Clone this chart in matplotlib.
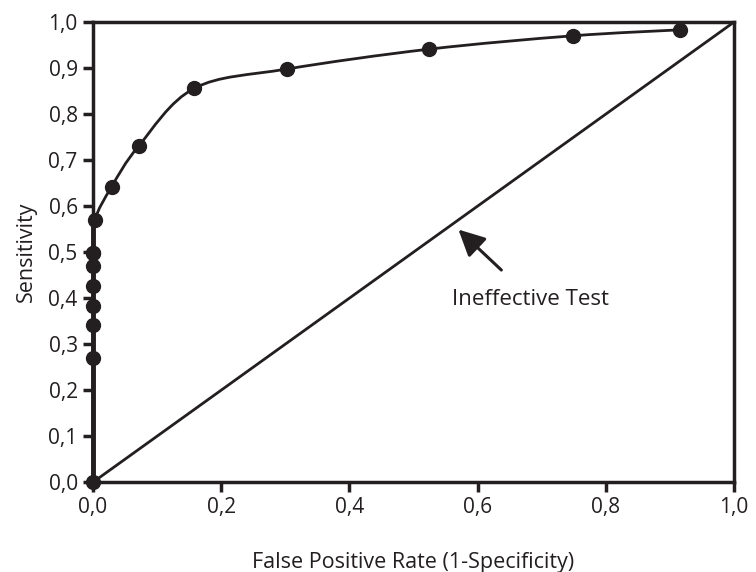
import matplotlib

matplotlib.use("Agg")
import matplotlib.pyplot as plt
import numpy as np
from matplotlib.path import Path
from matplotlib.patches import PathPatch
from matplotlib.ticker import FuncFormatter, MultipleLocator

# ROC points
fpr = [0.0, 0.0, 0.0, 0.0, 0.0, 0.0, 0.0, 0.0, 0.003, 0.029, 0.071, 0.158, 0.303, 0.524, 0.748, 0.915]
sens = [0.0, 0.270, 0.341, 0.383, 0.426, 0.470, 0.498, 0.498, 0.570, 0.642, 0.730, 0.856, 0.898, 0.941, 0.970, 0.983]
diag = [0.0, 1.0]
note = "Ineffective Test"

INK = "#231f20"
plt.rcParams["font.family"] = ["Open Sans", "DejaVu Sans"]


def smooth_path(xs, ys):
    # Catmull-Rom through the points, drawn as cubic Bezier segments
    pts = np.column_stack([xs, ys])
    verts = [pts[0]]
    codes = [Path.MOVETO]
    n = len(pts)
    for i in range(n - 1):
        p0 = pts[max(i - 1, 0)]
        p1 = pts[i]
        p2 = pts[i + 1]
        p3 = pts[min(i + 2, n - 1)]
        c1 = p1 + (p2 - p0) / 6.0
        c2 = p2 - (p3 - p1) / 6.0
        verts += [c1, c2, p2]
        codes += [Path.CURVE4] * 3
    return Path(verts, codes)


fig = plt.figure(figsize=(7.56, 5.72), dpi=100)
ax = fig.add_axes([0.123, 0.157, 0.848, 0.8045])

ax.plot(diag, diag, color=INK, linewidth=2.0, solid_capstyle="butt")
ax.add_patch(PathPatch(smooth_path(fpr, sens), facecolor="none", edgecolor=INK,
                       linewidth=2.0, clip_on=False, zorder=3))
ax.plot([0, 0], [0, 0.57], color=INK, linewidth=3.5, zorder=3, clip_on=False)
ax.plot(fpr, sens, linestyle="none", marker="o", markersize=10, color=INK,
        zorder=4, clip_on=False)

# arrow pointing at the diagonal, label below it
ax.annotate("", xy=(0.570, 0.549), xytext=(0.637, 0.461),
            arrowprops=dict(arrowstyle="-|>,head_length=0.8,head_width=0.4", color=INK,
                            lw=2.2, mutation_scale=20, shrinkA=0, shrinkB=0))
ax.text(0.56, 0.398, note, ha="left", va="center", fontsize=16, color=INK)

ax.set_xlim(0, 1)
ax.set_ylim(0, 1)
ax.xaxis.set_major_locator(MultipleLocator(0.2))
ax.yaxis.set_major_locator(MultipleLocator(0.1))
fmt = FuncFormatter(lambda v, p: f"{v:.1f}".replace(".", ","))
ax.xaxis.set_major_formatter(fmt)
ax.yaxis.set_major_formatter(fmt)
ax.tick_params(direction="out", length=7, width=2.5, color=INK, labelsize=15,
               labelcolor=INK, pad=4)

for s in ax.spines.values():
    s.set_linewidth(2.5)
    s.set_color(INK)

ax.set_xlabel("False Positive Rate (1-Specificity)", fontsize=15.5, color=INK, labelpad=24)
ax.set_ylabel("Sensitivity", fontsize=15.5, color=INK, labelpad=8)

fig.savefig("out.png", dpi=100)
